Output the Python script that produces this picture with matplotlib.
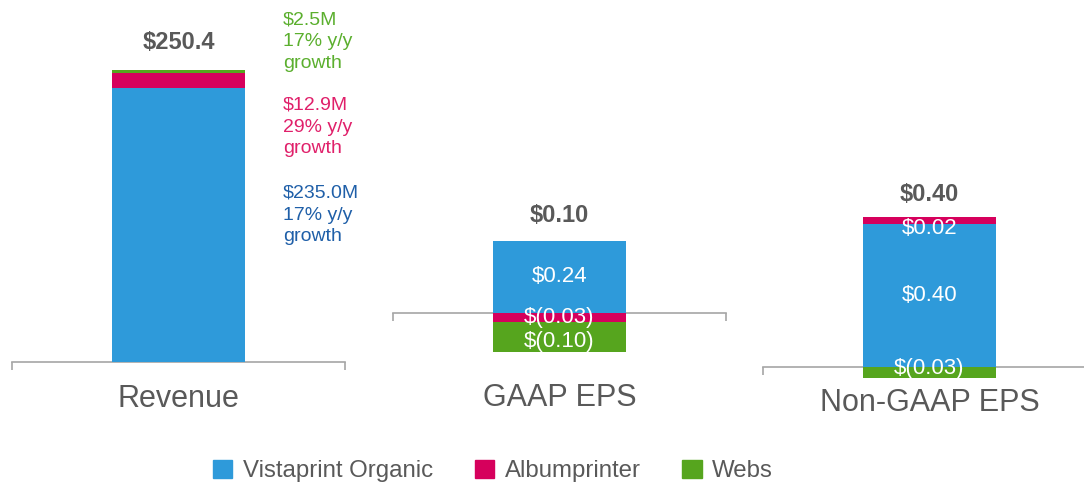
import matplotlib
matplotlib.use('Agg')
import matplotlib.pyplot as plt
from matplotlib.patches import Patch
from matplotlib.transforms import blended_transform_factory

plt.rcParams['font.family'] = ['Liberation Sans', 'DejaVu Sans']

# data
categories = ['Revenue', 'GAAP EPS', 'Non-GAAP EPS']
series = ['Vistaprint Organic', 'Albumprinter', 'Webs']
vistaprint = [235.0, 0.24, 0.40]
albumprinter = [12.9, -0.03, 0.02]
webs = [2.5, -0.10, -0.03]
totals = ['$250.4', '$0.10', '$0.40']
rev_growth = [17, 29, 17]

colors = ['#2E9ADA', '#D6005C', '#56A51E']
note_colors = ['#1F5FA8', '#E0206A', '#5BAF2E']
gray = '#595959'
line_gray = '#A6A6A6'

W, H = 1084, 482
fig = plt.figure(figsize=(W / 100, H / 100), dpi=100)

# layout of each panel, in pixels
panel_left = [12, 393, 763]
panel_width = 333
baseline = [362, 313, 367]
px_per_unit = [1.166, 300, 357.5]
total_offset = [20, 18, 16]
cat_label_y = [399, 398, 403]
# nudges for the white labels inside segments (points, + is up)
seg_nudge = {(1, 2): -3, (2, 1): -6, (2, 2): 3}


def eps_fmt(v):
    return f'$({abs(v):.2f})' if v < 0 else f'${v:.2f}'


values = [vistaprint, albumprinter, webs]
for i, cat in enumerate(categories):
    ax = fig.add_axes([panel_left[i] / W, 0, panel_width / W, 1])
    top = baseline[i] / px_per_unit[i]
    bot = -(H - baseline[i]) / px_per_unit[i]
    ax.set_ylim(bot, top)
    ax.set_xlim(-1.25, 1.25)

    pos, neg = 0.0, 0.0
    for s in range(3):
        v = values[s][i]
        if v >= 0:
            b = pos
            pos += v
        else:
            b = neg
            neg += v
        ax.bar(0, v, width=1, bottom=b, color=colors[s], zorder=3)
        if i > 0:
            ax.annotate(eps_fmt(v), (0, b + v / 2),
                        xytext=(0, seg_nudge.get((i, s), 0)),
                        textcoords='offset points', color='white',
                        fontsize=16, ha='center', va='center', zorder=4)

    ax.annotate(totals[i], (0, pos), xytext=(0, total_offset[i]),
                textcoords='offset points', ha='center', va='center',
                fontsize=17, fontweight='bold', color=gray)

    tr = blended_transform_factory(ax.transData, fig.transFigure)
    ax.text(0, 1 - cat_label_y[i] / H, cat, transform=tr, ha='center',
            va='center', fontsize=22, color=gray)

    for sp in ['top', 'left', 'right']:
        ax.spines[sp].set_visible(False)
    ax.spines['bottom'].set_position(('data', 0))
    ax.spines['bottom'].set_color(line_gray)
    ax.spines['bottom'].set_linewidth(1.2)
    ax.set_xticks([-1.25, 1.25])
    ax.set_xticklabels([])
    ax.tick_params(axis='x', direction='out', length=6, width=1.2,
                   color=line_gray)
    ax.set_yticks([])
    ax.patch.set_alpha(0)

# revenue segment notes
note_y = [215, 127, 42]
for s in range(3):
    txt = f'${values[s][0]:.1f}M\n{rev_growth[s]}% y/y\ngrowth'
    fig.text(283 / W, 1 - note_y[s] / H, txt, color=note_colors[s],
             fontsize=14, ha='left', va='center', linespacing=1.38)

handles = [Patch(color=c) for c in colors]
fig.legend(handles, series, loc='center left',
           bbox_to_anchor=(201 / W, 1 - 471 / H), ncol=3, frameon=False,
           fontsize=17.3, borderpad=0, handlelength=0.8, handleheight=0.8,
           handletextpad=0.45, columnspacing=1.73, labelcolor=gray)

fig.savefig('out.png', dpi=100)
